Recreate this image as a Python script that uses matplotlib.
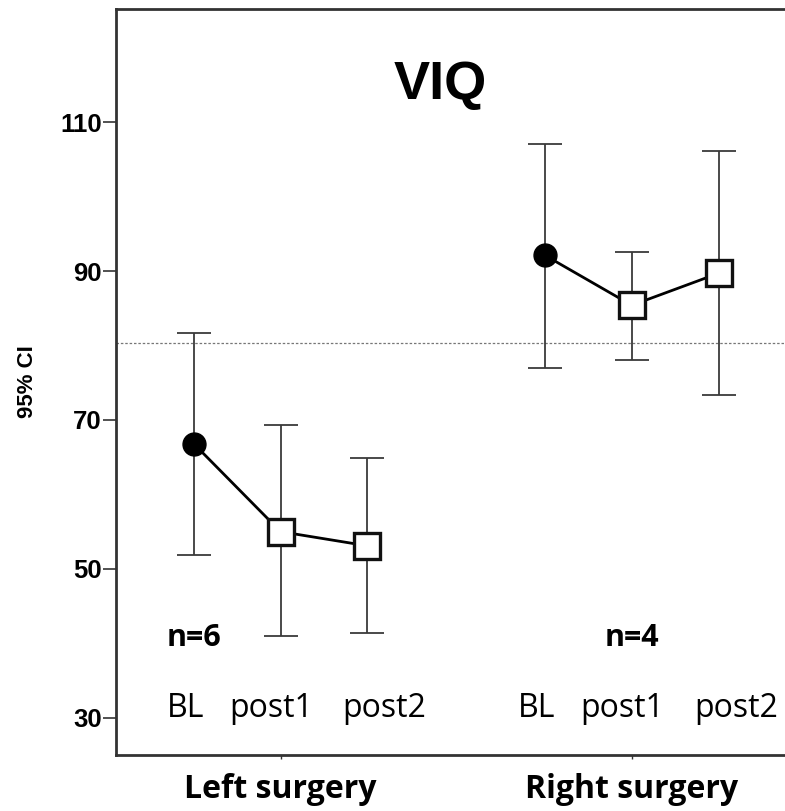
import matplotlib.pyplot as plt

# VIQ, 95% CI per group and time point
groups = ['Left surgery', 'Right surgery']
times = ['BL', 'post1', 'post2']
n_labels = ['n=6', 'n=4']

left_mean = [66.8, 55.0, 53.1]
left_lo = [51.9, 41.0, 41.4]
left_hi = [81.7, 69.3, 64.9]

right_mean = [92.1, 85.4, 89.7]
right_lo = [77.0, 78.1, 73.4]
right_hi = [107.0, 92.5, 106.1]

ref_line = 80.3

means = [left_mean, right_mean]
lows = [left_lo, right_lo]
highs = [left_hi, right_hi]

offsets = [-0.247, 0.0, 0.247]        # BL / post1 / post2 around the group centre
label_dx = [-0.27, -0.027, 0.296]     # time labels sit a bit off the points
n_dx = [-0.247, 0.0]

plt.rcParams['font.family'] = ['Liberation Sans', 'DejaVu Sans']

fig = plt.figure(figsize=(7.85, 8.11), dpi=100)
ax = fig.add_axes([0.148, 0.069, 0.86, 0.92])

ax.axhline(ref_line, color='#777777', lw=0.9, ls=(0, (2, 1.5)), zorder=1)

for g in range(len(groups)):
    xs = [g + o for o in offsets]
    m = means[g]
    yerr = [[m[i] - lows[g][i] for i in range(3)],
            [highs[g][i] - m[i] for i in range(3)]]
    ax.errorbar(xs, m, yerr=yerr, fmt='none', ecolor='#3a3a3a',
                elinewidth=1.3, capsize=12, capthick=1.3, zorder=2)
    ax.plot(xs, m, color='black', lw=2.0, zorder=3)
    ax.plot(xs[0], m[0], 'o', ms=16.5, color='black', zorder=4)
    ax.plot(xs[1:], m[1:], 's', ms=19, mfc='white', mec='#111111',
            mew=2.4, zorder=4)

    ax.text(g + n_dx[g], 40.7, n_labels[g], family='Open Sans', fontweight='bold',
            fontsize=22, ha='center', va='center')
    for t, dx in zip(times, label_dx):
        ax.text(g + dx, 31.2, t, family='Open Sans', fontsize=23,
                ha='center', va='center')

ax.text(0.454, 115.0, 'VIQ', fontsize=39, fontweight='bold',
        ha='center', va='center')

ax.set_xlim(-0.468, 1.454)
ax.set_ylim(25, 125.2)
ax.set_yticks([30, 50, 70, 90, 110])
ax.set_xticks([0, 1])
ax.set_xticklabels(groups, family='Open Sans', fontweight='bold', fontsize=23)
ax.tick_params(axis='y', length=9.5, width=1.2, labelsize=18.5, pad=1, color='#333333')
ax.tick_params(axis='x', length=3, width=1, pad=10, color='#333333')
for lab in ax.get_yticklabels():
    lab.set_fontweight('bold')

ax.set_ylabel('95% CI', fontsize=16, fontweight='bold', labelpad=16)

for s in ax.spines.values():
    s.set_linewidth(2)
    s.set_color('#333333')

fig.savefig('out.png', dpi=100)
